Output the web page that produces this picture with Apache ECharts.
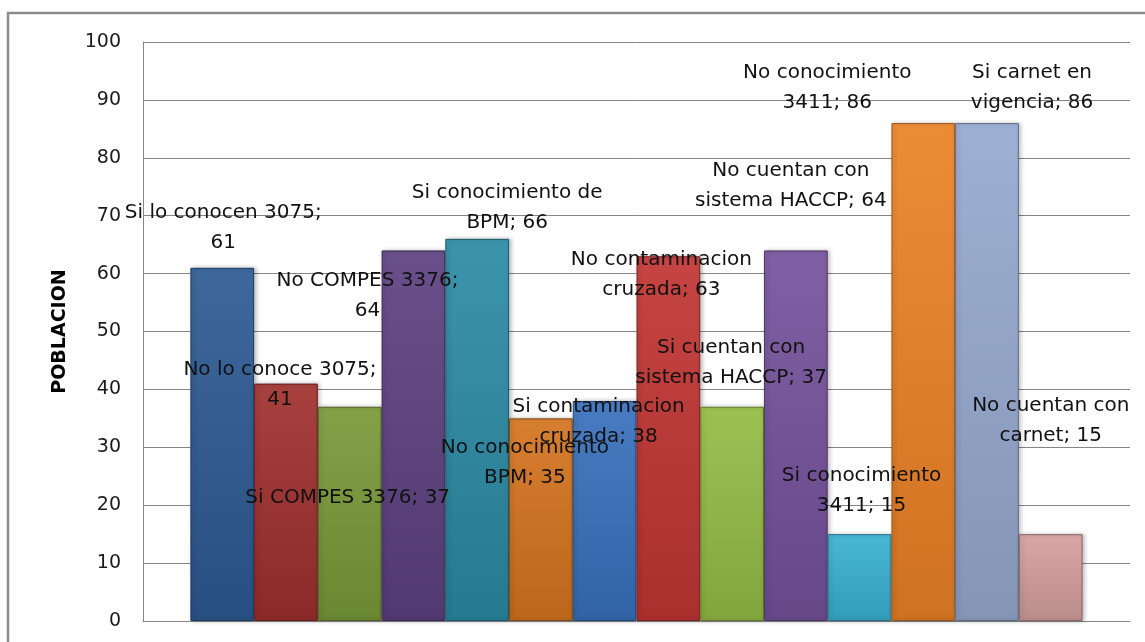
<!DOCTYPE html>
<html>
<head>
<meta charset="utf-8">
<script src="https://cdn.jsdelivr.net/npm/echarts@6/dist/echarts.min.js"></script>
<style>
  html, body { margin: 0; padding: 0; background: #fff; }
  #chart { width: 1145px; height: 642px; }
</style>
</head>
<body>
<div id="chart"></div>
<script>
// Encuesta de manipuladores: cada barra es una respuesta
const categorias = [
  'Si lo conocen 3075',
  'No lo conoce 3075',
  'Si COMPES 3376',
  'No COMPES 3376',
  'Si conocimiento de\nBPM',
  'No conocimiento\nBPM',
  'Si contaminacion\ncruzada',
  'No contaminacion\ncruzada',
  'Si cuentan con\nsistema HACCP',
  'No cuentan con\nsistema HACCP',
  'Si conocimiento\n3411',
  'No conocimiento\n3411',
  'Si carnet en\nvigencia',
  'No cuentan con\ncarnet'
];
const valores = [61, 41, 37, 64, 66, 35, 38, 63, 37, 64, 15, 86, 86, 15];
// respuestas cuyo valor va en una segunda línea
const valorEnLineaAparte = [0, 1, 3];
const ejeY = { min: 0, max: 100, intervalo: 10, titulo: 'POBLACION' };

// estilo de cada barra: color base y desplazamiento de su rótulo (px)
const colores = [
  '#2D5A93', '#9E302D', '#799938', '#5C4180', '#2B8BA5', '#D4741F', '#3871BD',
  '#C13533', '#96BB44', '#74529C', '#39B1D2', '#EB8226', '#96A9CF', '#D59F9F'
];
const desplazamientos = [
  [1, -10], [-6, 31], [-2, 106], [-46, 75], [30, -1], [-16, 74], [-6, 51],
  [-7, 49], [-1, -14], [-5, -35], [2, -13], [-96, -5], [45, -5], [0, -83]
];

function shade(hex, f) {
  const n = parseInt(hex.slice(1), 16);
  let r = (n >> 16) & 255, g = (n >> 8) & 255, b = n & 255;
  const m = c => Math.max(0, Math.min(255, Math.round(f >= 0 ? c + (255 - c) * f : c * (1 + f))));
  return 'rgb(' + m(r) + ',' + m(g) + ',' + m(b) + ')';
}

const fuente = 'DejaVu Sans';

const series = categorias.map((nombre, i) => ({
  name: nombre,
  type: 'bar',
  data: [valores[i]],
  barGap: '0%',
  barCategoryGap: '9.6%',
  itemStyle: {
    color: {
      type: 'linear', x: 0, y: 0, x2: 0, y2: 1,
      colorStops: [
        { offset: 0, color: shade(colores[i], 0.08) },
        { offset: 1, color: shade(colores[i], -0.12) }
      ]
    },
    borderColor: shade(colores[i], -0.35),
    borderWidth: 1,
    shadowColor: 'rgba(0,0,0,0.25)',
    shadowBlur: 4,
    shadowOffsetX: 2
  },
  label: {
    show: true,
    position: 'top',
    distance: 0,
    offset: desplazamientos[i],
    fontFamily: fuente,
    fontSize: 20,
    lineHeight: 30,
    color: '#111',
    formatter: p => p.seriesName + ';' +
      (valorEnLineaAparte.includes(i) ? '\n' : ' ') + p.value
  }
}));

const chart = echarts.init(document.getElementById('chart'), null, { renderer: 'canvas' });
chart.setOption({
  animation: false,
  backgroundColor: '#fff',
  graphic: [{
    type: 'rect',
    shape: { x: 8, y: 13, width: 1150, height: 650 },
    style: { fill: 'none', stroke: '#8c8c8c', lineWidth: 2.5 },
    silent: true,
    z: -1
  }],
  grid: { left: 143, right: 15, top: 42, bottom: 21 },
  xAxis: {
    type: 'category',
    data: [''],
    axisLine: { show: true, lineStyle: { color: '#868686', width: 1 } },
    axisTick: { show: false },
    axisLabel: { show: false }
  },
  yAxis: {
    type: 'value',
    min: ejeY.min,
    max: ejeY.max,
    interval: ejeY.intervalo,
    name: ejeY.titulo,
    nameLocation: 'middle',
    nameGap: 73,
    nameTextStyle: { fontFamily: fuente, fontSize: 19, fontWeight: 'bold', color: '#000' },
    axisLine: { show: true, lineStyle: { color: '#868686', width: 1 } },
    axisTick: { show: true, inside: true, length: 5, lineStyle: { color: '#868686' } },
    axisLabel: { fontFamily: fuente, fontSize: 19, color: '#1a1a1a', margin: 22 },
    splitLine: { show: true, lineStyle: { color: '#868686', width: 1 } }
  },
  series: series
});
</script>
</body>
</html>
